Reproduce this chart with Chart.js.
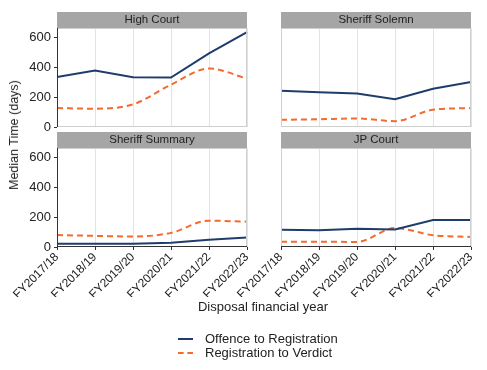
<!DOCTYPE html>
<html>
<head>
<meta charset="utf-8">
<script src="https://cdn.jsdelivr.net/npm/chart.js@4"></script>
<style>
  body { margin: 0; background: #fff; font-family: "Liberation Sans", Arial, sans-serif; color: #222; }
  #wrap { position: relative; width: 487px; height: 370px; overflow: hidden; }
  canvas { position: absolute; left: 0; top: 0; }
  .txt { position: absolute; font-size: 13px; white-space: nowrap; }
  #ytitle { left: 14px; top: 135px; font-size: 12.5px; transform: translate(-50%, -50%) rotate(-90deg); }
  #xtitle { left: 263px; top: 306px; transform: translate(-50%, -50%); }
  .key { position: absolute; left: 178px; width: 15px; height: 0; }
</style>
</head>
<body>
<div id="wrap">
  <canvas id="hc" width="487" height="370"></canvas>
  <canvas id="ss" width="487" height="370"></canvas>
  <canvas id="su" width="487" height="370"></canvas>
  <canvas id="jp" width="487" height="370"></canvas>
  <div class="txt" id="ytitle">Median Time (days)</div>
  <div class="txt" id="xtitle">Disposal financial year</div>
  <div class="key" style="top:338px;border-top:2px solid #1f3d6b"></div>
  <div class="txt" style="left:205px;top:331px">Offence to Registration</div>
  <div class="key" style="top:352px;border-top:2px dashed #f26b2f"></div>
  <div class="txt" style="left:205px;top:345px">Registration to Verdict</div>
</div>
<script>
const years = ['FY2017/18', 'FY2018/19', 'FY2019/20', 'FY2020/21', 'FY2021/22', 'FY2022/23'];
const yTicks = [0, 200, 400, 600];

const highCourtOffence = [336, 380, 334, 332, 495, 638];
const highCourtRegistration = [127, 123, 152, 284, 393, 325];
const solemnOffence = [243, 234, 225, 186, 257, 302];
const solemnRegistration = [48, 52, 57, 39, 116, 127];
const summaryOffence = [22, 22, 22, 29, 48, 64];
const summaryRegistration = [80, 75, 70, 95, 177, 170];
const jpOffence = [116, 113, 123, 118, 182, 182];
const jpRegistration = [36, 36, 34, 127, 79, 68];

const BLUE = '#1f3d6b';
const ORANGE = '#f26b2f';
const Y_W = 40;
const X_H = 50;

// strip header + panel frame
const panelDeco = {
  id: 'panelDeco',
  afterDraw(chart, args, opts) {
    const { ctx, chartArea: a } = chart;
    ctx.save();
    ctx.fillStyle = '#a6a6a6';
    ctx.fillRect(a.left, a.top - 16, a.right - a.left, 16);
    ctx.fillStyle = '#222';
    ctx.font = '11.5px "Liberation Sans", Arial, sans-serif';
    ctx.textAlign = 'center';
    ctx.textBaseline = 'middle';
    ctx.fillText(opts.title, (a.left + a.right) / 2, a.top - 8);

    ctx.lineWidth = 1;
    ctx.strokeStyle = '#cfcfcf';
    ctx.strokeRect(Math.round(a.left) + 0.5, Math.round(a.top) + 0.5,
      Math.round(a.right - a.left) - 1, Math.round(a.bottom - a.top) - 1);
    ctx.strokeStyle = '#333';
    if (opts.showY) {
      ctx.beginPath();
      ctx.moveTo(Math.round(a.left) + 0.5, a.top);
      ctx.lineTo(Math.round(a.left) + 0.5, a.bottom);
      ctx.stroke();
    }
    if (opts.showX) {
      ctx.beginPath();
      ctx.moveTo(a.left, Math.round(a.bottom) - 0.5);
      ctx.lineTo(a.right, Math.round(a.bottom) - 0.5);
      ctx.stroke();
    }
    ctx.restore();
  }
};

const makePanel = (id, title, offence, registration, box) => {
  const ctx = document.getElementById(id).getContext('2d');
  return new Chart(ctx, {
    type: 'line',
    data: {
      labels: years,
      datasets: [{
        label: 'Offence to Registration',
        data: offence,
        borderColor: BLUE,
        borderWidth: 2,
        pointRadius: 0,
        tension: 0,
      }, {
        label: 'Registration to Verdict',
        data: registration,
        borderColor: ORANGE,
        borderWidth: 2,
        borderDash: [6, 4],
        pointRadius: 0,
        cubicInterpolationMode: 'monotone',
      }],
    },
    options: {
      responsive: false,
      animation: false,
      devicePixelRatio: 1,
      layout: {
        padding: {
          left: box.left - Y_W,
          top: box.top,
          right: 487 - box.right,
          bottom: 370 - box.bottom - (box.showX ? X_H : 0),
        },
      },
      plugins: {
        legend: { display: false },
        tooltip: { enabled: false },
        panelDeco: { title, showX: box.showX, showY: box.showY },
      },
      scales: {
        x: {
          offset: false,
          border: { display: false },
          grid: { color: '#e3e3e3', lineWidth: 1, tickLength: 3, tickColor: '#333', drawTicks: box.showX },
          ticks: {
            display: box.showX,
            autoSkip: false,
            maxRotation: 45,
            minRotation: 45,
            padding: 0,
            color: '#222',
            font: { size: 12, family: '"Liberation Sans", Arial, sans-serif' },
          },
          afterFit: (s) => {
            s.height = box.showX ? X_H : 0;
            s.paddingLeft = 0;
            s.paddingRight = 0;
          },
        },
        y: {
          min: 0,
          max: 665,
          border: { display: false },
          grid: { drawOnChartArea: false, drawTicks: box.showY, tickLength: 3, tickColor: '#333' },
          ticks: {
            display: box.showY,
            padding: 3,
            color: '#222',
            font: { size: 13, family: '"Liberation Sans", Arial, sans-serif' },
          },
          afterBuildTicks: (s) => { s.ticks = yTicks.map(v => ({ value: v })); },
          afterFit: (s) => {
            s.width = Y_W;
            s.paddingTop = 0;
            s.paddingBottom = 0;
          },
        },
      },
    },
    plugins: [panelDeco],
  });
};

makePanel('hc', 'High Court', highCourtOffence, highCourtRegistration,
  { left: 57, right: 247, top: 28, bottom: 127, showY: true, showX: false });
makePanel('ss', 'Sheriff Solemn', solemnOffence, solemnRegistration,
  { left: 281, right: 471, top: 28, bottom: 127, showY: false, showX: false });
makePanel('su', 'Sheriff Summary', summaryOffence, summaryRegistration,
  { left: 57, right: 247, top: 148, bottom: 247, showY: true, showX: true });
makePanel('jp', 'JP Court', jpOffence, jpRegistration,
  { left: 281, right: 471, top: 148, bottom: 247, showY: false, showX: true });
</script>
</body>
</html>
